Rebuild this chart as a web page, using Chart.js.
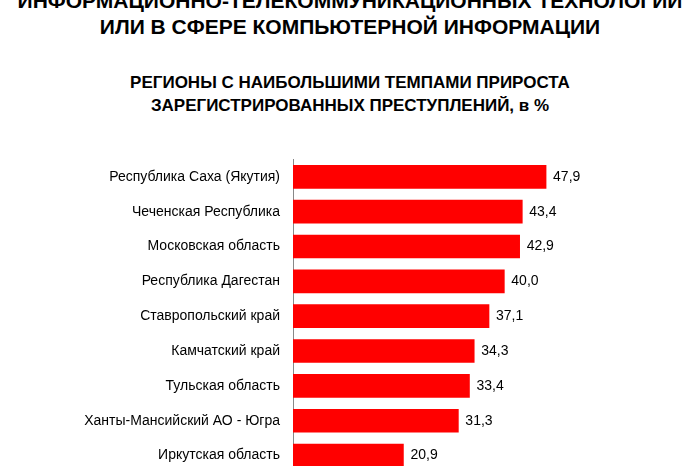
<!DOCTYPE html>
<html>
<head>
<meta charset="utf-8">
<script src="https://cdn.jsdelivr.net/npm/chart.js@4"></script>
<style>
  html, body { margin: 0; width: 700px; height: 466px; overflow: hidden; background: #fff; font-family: "Liberation Sans", Arial, sans-serif; }
  .t { position: absolute; left: 0; width: 700px; text-align: center; font-weight: bold; color: #000; }
  #t1 { top: -12px; font-size: 21px; line-height: 26px; }
  #t2 { top: 71px; font-size: 17px; line-height: 23px; }
  #wrap { position: absolute; left: 0; top: 146px; width: 700px; height: 345px; }
</style>
</head>
<body>
<div class="t" id="t1">ИНФОРМАЦИОННО-ТЕЛЕКОММУНИКАЦИОННЫХ ТЕХНОЛОГИЙ<br>ИЛИ В СФЕРЕ КОМПЬЮТЕРНОЙ ИНФОРМАЦИИ</div>
<div class="t" id="t2">РЕГИОНЫ С НАИБОЛЬШИМИ ТЕМПАМИ ПРИРОСТА<br>ЗАРЕГИСТРИРОВАННЫХ ПРЕСТУПЛЕНИЙ, в %</div>
<div id="wrap"><canvas id="c"></canvas></div>
<script>
const regions = [
    'Республика Саха (Якутия)', 'Чеченская Республика', 'Московская область',
    'Республика Дагестан', 'Ставропольский край', 'Камчатский край',
    'Тульская область', 'Ханты-Мансийский АО - Югра', 'Иркутская область'
];
const growth = [47.9, 43.4, 42.9, 40.0, 37.1, 34.3, 33.4, 31.3, 20.9];

// подписи значений справа от столбцов
const valueLabels = {
    id: 'valueLabels',
    afterDatasetsDraw(chart) {
        const ctx = chart.ctx;
        ctx.save();
        ctx.font = '14px "Liberation Sans", Arial, sans-serif';
        ctx.fillStyle = '#000';
        ctx.textBaseline = 'middle';
        chart.getDatasetMeta(0).data.forEach((bar, i) => {
            ctx.fillText(growth[i].toFixed(1).replace('.', ','), bar.x + 7, bar.y);
        });
        ctx.restore();
    }
};

new Chart(document.getElementById('c'), {
    type: 'bar',
    data: {
        labels: regions,
        datasets: [{ data: growth, backgroundColor: '#ff0000', barThickness: 23 }]
    },
    options: {
        indexAxis: 'y',
        responsive: true,
        maintainAspectRatio: false,
        animation: false,
        layout: { padding: { top: 10, bottom: 18, right: 90 } },
        plugins: { legend: { display: false }, tooltip: { enabled: false } },
        scales: {
            x: { min: 0, max: 60, display: false },
            y: {
                grid: { display: false },
                border: { color: '#888', width: 1 },
                ticks: { color: '#000', padding: 5, font: { size: 14, family: '"Liberation Sans", Arial, sans-serif' } },
                afterFit(scale) { scale.width = 293; }
            }
        }
    },
    plugins: [valueLabels]
});
</script>
</body>
</html>
